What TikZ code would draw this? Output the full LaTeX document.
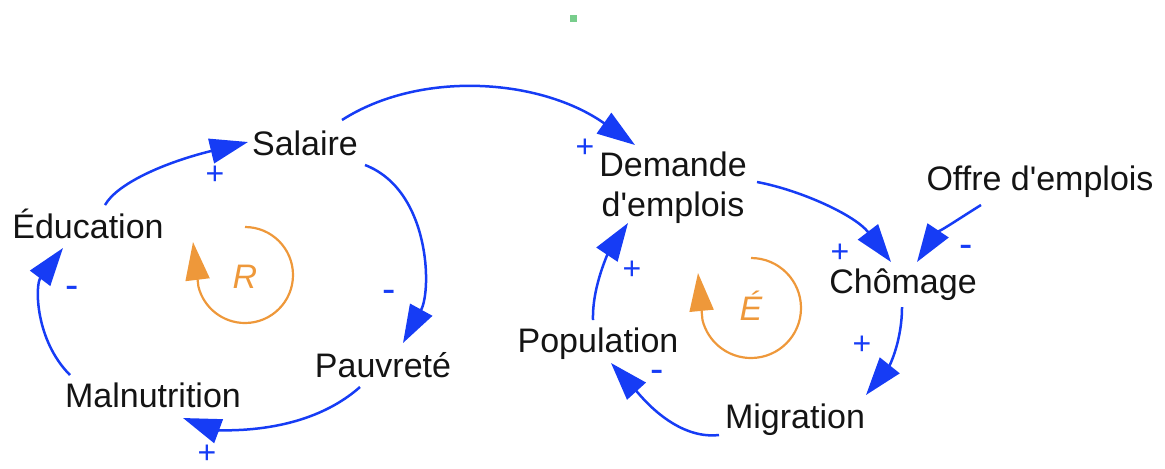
\documentclass[tikz,border=0pt]{standalone}
\usepackage{fontspec}
\newfontfamily\lsans{Liberation Sans}
\usetikzlibrary{arrows.meta,calc}
\definecolor{cldblue}{RGB}{22,60,245}
\definecolor{cldorange}{RGB}{238,152,58}
\definecolor{cldtext}{RGB}{20,20,20}
\definecolor{cldgreen}{RGB}{120,205,140}
\begin{document}
\begin{tikzpicture}[x=0.5pt,y=-0.5pt,
  var/.style={inner sep=0pt, text=cldtext, font=\lsans\fontsize{17}{20}\selectfont},
  sign/.style={inner sep=0pt, text=cldblue, font=\lsans\fontsize{16}{18}\selectfont},
  minus/.style={inner sep=0pt, text=cldblue, font=\lsans\fontsize{20}{22}\selectfont, text height=5pt, text depth=0pt},
  link/.style={draw=cldblue, line width=1.25pt, -{Triangle[length=19pt,width=12.5pt]}},
  loopar/.style={draw=cldorange, line width=1.1pt, -{Triangle[length=19pt,width=12pt]}},
  looplbl/.style={inner sep=0pt, text=cldorange, font=\lsans\fontsize{17}{20}\selectfont\itshape}]
\useasboundingbox (0,0) rectangle (1165,468);
\node[fill=cldgreen, minimum size=3.5pt, inner sep=0pt] (dot) at (573,18) {};
% variables
\node[var, anchor=base] (sal) at (305,155) {Salaire};
\node[var, anchor=base] (edu) at (88,238) {Éducation};
\node[var, anchor=base] (mal) at (153,407) {Malnutrition};
\node[var, anchor=base] (pau) at (383,377) {Pauvreté};
\node[var, anchor=north, align=center] (dem) at (673,151) {Demande\\d'emplois};
\node[var, anchor=base] (off) at (1040,190) {Offre d'emplois};
\node[var, anchor=base] (cho) at (903,293) {Chômage};
\node[var, anchor=base] (pop) at (598,352) {Population};
\node[var, anchor=base] (mig) at (795,428) {Migration};
% links
\draw[link] ($(edu.base)+(17,-33)$) .. controls (117.3,183.3) and (165,162.3) .. ($(sal.base)+(-57,-13)$);
\draw[link] ($(sal.base)+(60,10)$) .. controls (430,190) and (432,290) .. ($(pau.base)+(20,-34)$);
\draw[link] ($(pau.base)+(-23,10)$) .. controls (300,440) and (210,428) .. ($(mal.base)+(30,11)$);
\draw[link] ($(mal.base)+(-83,-32)$) .. controls (35,340) and (35,285) .. ($(edu.base)+(-25,10)$);
\draw[link] ($(sal.base)+(37,-35)$) .. controls (420,70) and (540,78) .. ($(dem.north)+(-38,-6)$);
\draw[link] ($(dem.north)+(84,31)$) .. controls (800,190) and (855,215) .. ($(cho.base)+(-12,-31)$);
\draw[link] ($(off.base)+(-59,15)$) .. controls (960,218) and (935,235) .. ($(cho.base)+(14,-31)$);
\draw[link] ($(cho.base)+(-1,14)$) .. controls (902,340) and (890,365) .. ($(mig.base)+(71,-33)$);
\draw[link] ($(mig.base)+(-76,7)$) .. controls (675,440) and (640,395) .. ($(pop.base)+(13,11)$);
\draw[link] ($(pop.base)+(-5,-32)$) .. controls (592,285) and (610,250) .. ($(dem.north)+(-45,72)$);
% signs
\node[sign] (s1) at (215,175) {+};
\node[minus] (s2) at (389,297) {-};
\node[sign] (s3) at (207,454) {+};
\node[minus] (s4) at (72,293) {-};
\node[sign] (s5) at (585,148) {+};
\node[sign] (s6) at (840,253) {+};
\node[minus] (s7) at (966,252) {-};
\node[sign] (s8) at (862,345) {+};
\node[minus] (s9) at (657,377) {-};
\node[sign] (s10) at (632,270) {+};
% loops
\node[looplbl, anchor=base] (rl) at (245,288) {R};
\node[looplbl, anchor=base] (el) at (751,320) {É};
\draw[loopar] ($(rl.base)+(0,-61)$) arc[start angle=-90, end angle=166, radius=48] -- ($(rl.base)+(-52,-46)$);
\draw[loopar] ($(el.base)+(0,-62)$) arc[start angle=-90, end angle=166, radius=50] -- ($(el.base)+(-53,-47)$);
\end{tikzpicture}
\end{document}
